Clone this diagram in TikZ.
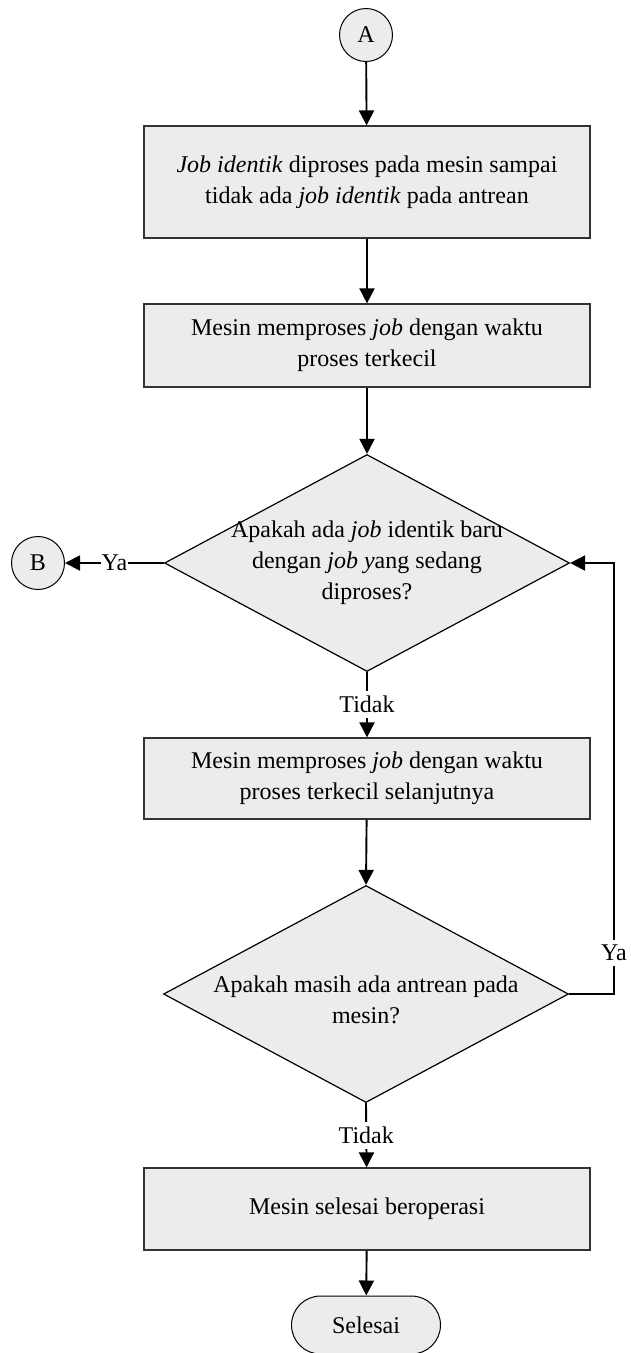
\documentclass[tikz,border=0pt]{standalone}
\usepackage{fontspec}
\setmainfont{Liberation Serif}
\usetikzlibrary{shapes.geometric,arrows.meta}
\definecolor{shapefill}{HTML}{ECECEC}
\definecolor{shapeline}{HTML}{333333}
\begin{document}
\begin{tikzpicture}[x=1pt,y=-1pt,
  every node/.style={font=\fontsize{24}{31}\selectfont},
  procbox/.style={draw=shapeline,line width=1.2pt,fill=shapefill,
    minimum width=446pt,align=center,inner sep=0pt},
  decision/.style={draw=black,line width=1.2pt,fill=shapefill,diamond,
    minimum width=405pt,minimum height=217pt,inner sep=0pt},
  connector/.style={draw=black,line width=1pt,fill=shapefill,circle,
    minimum size=53pt,inner sep=0pt},
  terminal/.style={draw=black,line width=1pt,fill=shapefill,rectangle,
    rounded corners=29pt,minimum width=149pt,minimum height=58pt,inner sep=0pt},
  txt/.style={align=center,inner sep=0pt},
  lbl/.style={fill=white,inner xsep=1pt,inner ysep=5pt},
  flow/.style={draw=black,line width=1.9pt,-{Triangle[width=15pt,length=15pt]}}]
\useasboundingbox (0,0) rectangle (630,1353);

% start connector
\node[connector] (A) at (366,35) {A};

% process steps
\node[procbox,minimum height=112pt] (b1) at (367,182)
  {\textit{Job identik} diproses pada mesin sampai\\tidak ada \textit{job identik} pada antrean};
\node[procbox,minimum height=83pt] (b2) at (367,345.5)
  {Mesin memproses \textit{job} dengan waktu\\proses terkecil};

% first decision
\node[decision] (d1) at (367,563) {};
\node[txt] (d1t) at (d1.center)
  {Apakah ada \textit{job} identik baru\\dengan \textit{job y}ang sedang\\diproses?};

% off-page connector
\node[connector] (B) at (38,563) {B};

\node[procbox,minimum height=81pt] (b3) at (367,778.5)
  {Mesin memproses \textit{job} dengan waktu\\proses terkecil selanjutnya};

% second decision
\node[decision] (d2) at (366,994) {};
\node[txt] (d2t) at ([yshift=-6pt]d2.center)
  {Apakah masih ada antrean pada\\mesin?};

\node[procbox,minimum height=82pt] (b4) at (367,1209) {Mesin selesai beroperasi};

% end
\node[terminal] (end) at (366,1325) {Selesai};

% loop-back corners
\coordinate (r1) at (614,994);
\coordinate (r2) at (614,563);

% connectors
\draw[flow] (A) -- (b1);
\draw[flow] (b1) -- (b2);
\draw[flow] (b2) -- (d1.north);
\draw[flow] (d1.west) -- node[lbl] {Ya} (B);
\draw[flow] (d1.south) -- node[lbl] {Tidak} (b3);
\draw[flow] (b3) -- (d2.north);
\draw[flow] (d2.east) -- (r1) -- node[lbl,pos=0.095] {Ya} (r2) -- (d1.east);
\draw[flow] (d2.south) -- node[lbl] {Tidak} (b4);
\draw[flow] (b4) -- (end);
\end{tikzpicture}
\end{document}
